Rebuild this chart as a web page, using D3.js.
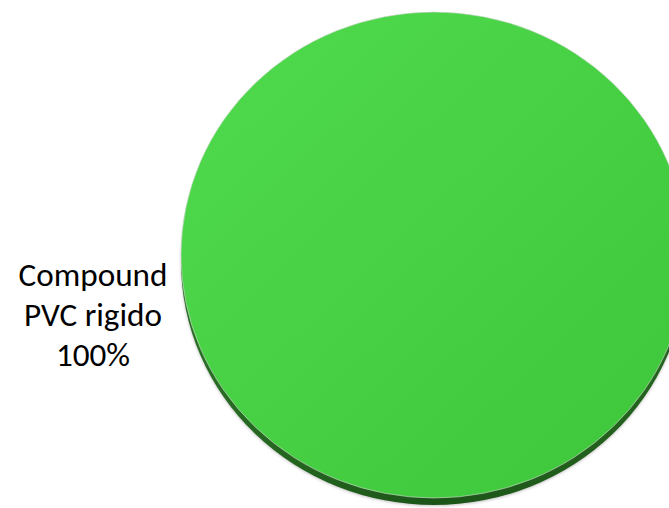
<!DOCTYPE html>
<html>
<head>
<meta charset="utf-8">
<script src="https://cdn.jsdelivr.net/npm/d3@7/dist/d3.min.js"></script>
<style>
html,body{margin:0;padding:0;background:#fff;}
svg{display:block;}
</style>
</head>
<body>
<svg id="chart" width="669" height="508"></svg>
<script>
const categories = ["Compound PVC rigido"];
const labelLines = [["Compound", "PVC rigido", "100%"]];
const values = [100];

const W = 669, H = 508;
const cx = 434, cy = 255, rx = 253, ry = 243, depth = 7;

const svg = d3.select("#chart");
const defs = svg.append("defs");

const gTop = defs.append("linearGradient").attr("id", "gTop")
  .attr("x1", "0").attr("y1", "0").attr("x2", "1").attr("y2", "1");
gTop.append("stop").attr("offset", "0").attr("stop-color", "#50da4d");
gTop.append("stop").attr("offset", "1").attr("stop-color", "#3ec63a");

const gSide = defs.append("linearGradient").attr("id", "gSide")
  .attr("x1", "0").attr("y1", "0").attr("x2", "1").attr("y2", "0");
gSide.append("stop").attr("offset", "0").attr("stop-color", "#2a7025");
gSide.append("stop").attr("offset", "0.5").attr("stop-color", "#1c5418");
gSide.append("stop").attr("offset", "1").attr("stop-color", "#25661f");

const blur = defs.append("filter").attr("id", "shadow")
  .attr("x", "-10%").attr("y", "-10%").attr("width", "120%").attr("height", "120%");
blur.append("feGaussianBlur").attr("stdDeviation", 1.5);

const pie = d3.pie().sort(null).value(d => d)(values);
const arc = d3.arc().innerRadius(0).outerRadius(rx);

// shadow
svg.append("g")
  .attr("transform", `translate(${cx},${cy + depth + 1}) scale(1,${ry / rx})`)
  .selectAll("path").data(pie).join("path")
  .attr("d", arc).attr("fill", "#999").attr("opacity", 0.6)
  .attr("filter", "url(#shadow)");

// side (depth)
svg.append("g")
  .attr("transform", `translate(${cx},${cy + depth}) scale(1,${ry / rx})`)
  .selectAll("path").data(pie).join("path")
  .attr("d", arc).attr("fill", "url(#gSide)");

// top face
svg.append("g")
  .attr("transform", `translate(${cx},${cy}) scale(1,${ry / rx})`)
  .selectAll("path").data(pie).join("path")
  .attr("d", arc).attr("fill", "url(#gTop)")
  .attr("stroke", "#d8d8d8").attr("stroke-width", 0.6);

// label
const label = svg.append("text")
  .attr("text-anchor", "middle")
  .attr("font-family", "Carlito, Calibri, Lato, 'Open Sans', sans-serif")
  .attr("font-size", 32)
  .attr("fill", "#000");
labelLines[0].forEach((t, i) => {
  label.append("tspan").attr("x", 93).attr("y", 286 + i * 40).text(t);
});
// fit width of first line to the reference (~149px)
const w = label.select("tspan").node().getComputedTextLength();
if (w > 0) label.attr("font-size", 32 * 149 / w);
</script>
</body>
</html>
